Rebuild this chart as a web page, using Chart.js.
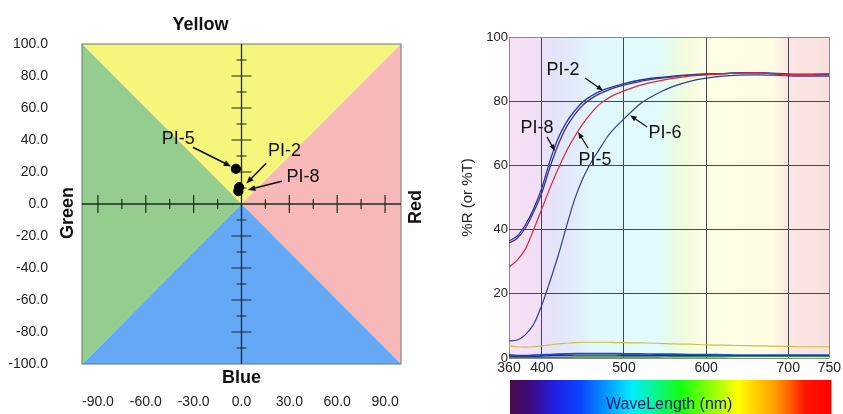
<!DOCTYPE html>
<html>
<head>
<meta charset="utf-8">
<script src="https://cdn.jsdelivr.net/npm/chart.js@4.4.1/dist/chart.umd.min.js"></script>
<style>
  html, body { margin: 0; padding: 0; background: #fff; }
  #wrap { position: relative; width: 843px; height: 414px; }
  #boxLeft { position: absolute; left: 0; top: 0; width: 440px; height: 414px; }
  #boxRight { position: absolute; left: 440px; top: 0; width: 403px; height: 414px; }
</style>
</head>
<body>
<div id="wrap">
  <div id="boxLeft"><canvas id="colorChart"></canvas></div>
  <div id="boxRight"><canvas id="specChart"></canvas></div>
</div>
<script>
// colour plane (left)
const sampleNames = ['PI-5', 'PI-2', 'PI-8'];
const sampleX = [-3.5, -1.5, -2.0];
const sampleY = [22.0, 10.5, 8.0];
const colorXTicks = [-90, -60, -30, 0, 30, 60, 90];
const colorYTicks = [-100, -80, -60, -40, -20, 0, 20, 40, 60, 80, 100];

// spectra (right)
const wavelengths = [360, 370, 380, 390, 400, 410, 420, 430, 440, 450, 460, 470, 480, 490, 500,
  520, 540, 560, 580, 600, 620, 640, 660, 680, 700, 720, 750];
const pi2 = [36.5, 38.0, 41.5, 46.5, 53.0, 61.5, 68.5, 73.5, 77.0, 79.8, 81.6, 83.0, 84.0, 84.8, 85.5,
  86.6, 87.3, 87.8, 88.2, 88.5, 88.6, 88.8, 88.9, 88.7, 88.5, 88.4, 88.5];
const pi8 = [35.8, 37.3, 40.5, 45.5, 51.5, 59.5, 66.5, 72.0, 75.8, 78.8, 80.8, 82.3, 83.4, 84.3, 85.0,
  86.2, 87.0, 87.6, 88.1, 88.4, 88.6, 88.8, 88.8, 88.6, 88.3, 88.2, 88.2];
const pi5 = [28.3, 30.5, 34.0, 40.0, 46.5, 53.0, 59.0, 64.5, 69.0, 73.0, 76.3, 79.0, 80.8, 82.2, 83.2,
  85.0, 86.2, 87.1, 87.8, 88.2, 88.5, 88.7, 88.8, 88.6, 88.3, 88.3, 88.6];
const pi6 = [5.3, 5.6, 7.3, 10.5, 16.5, 24.0, 32.0, 41.0, 49.5, 56.0, 61.0, 65.0, 69.0, 72.0, 74.5,
  79.2, 82.3, 84.6, 86.2, 87.2, 87.8, 88.1, 88.2, 88.1, 87.9, 87.8, 87.8];
const lowYellow = [3.8, 3.5, 3.4, 3.5, 3.8, 4.1, 4.4, 4.6, 4.8, 4.9, 4.9, 4.9, 4.9, 4.8, 4.8,
  4.7, 4.6, 4.4, 4.3, 4.1, 4.0, 3.9, 3.8, 3.7, 3.6, 3.5, 3.5];
const lowBlue = [1.0, 0.8, 0.8, 0.9, 1.0, 1.1, 1.2, 1.3, 1.4, 1.4, 1.4, 1.4, 1.4, 1.4, 1.3,
  1.3, 1.2, 1.2, 1.1, 1.1, 1.0, 0.9, 0.9, 0.9, 0.9, 0.9, 0.9];
const lowNavy = [0.6, 0.5, 0.5, 0.5, 0.6, 0.7, 0.8, 0.8, 0.9, 0.9, 0.9, 0.9, 0.9, 0.9, 0.8,
  0.8, 0.8, 0.7, 0.7, 0.7, 0.6, 0.6, 0.6, 0.6, 0.6, 0.6, 0.6];
const lowGreen = [0.2, 0.2, 0.2, 0.2, 0.2, 0.2, 0.2, 0.2, 0.3, 0.3, 0.3, 0.3, 0.3, 0.3, 0.3,
  0.3, 0.3, 0.4, 0.4, 0.4, 0.4, 0.5, 0.5, 0.5, 0.5, 0.5, 0.5];
const specXTicks = [360, 400, 500, 600, 700, 750];

const FONT = "'Liberation Sans', Arial, sans-serif";

function drawArrow(ctx, x1, y1, x2, y2, lw, head) {
  const ang = Math.atan2(y2 - y1, x2 - x1);
  ctx.lineWidth = lw;
  ctx.beginPath();
  ctx.moveTo(x1, y1);
  ctx.lineTo(x2 - head * 0.8 * Math.cos(ang), y2 - head * 0.8 * Math.sin(ang));
  ctx.stroke();
  ctx.beginPath();
  ctx.moveTo(x2, y2);
  ctx.lineTo(x2 - head * Math.cos(ang - 0.38), y2 - head * Math.sin(ang - 0.38));
  ctx.lineTo(x2 - head * Math.cos(ang + 0.38), y2 - head * Math.sin(ang + 0.38));
  ctx.closePath();
  ctx.fill();
}

// label text position, arrow tail, arrow tip (data units)
const colorNotes = [
  { text: 'PI-5', at: [-39.7, 40.6], from: [-30.5, 35.5], to: [-6.5, 23.5] },
  { text: 'PI-2', at: [27.0, 33.1], from: [15.5, 25.5], to: [3.0, 12.8] },
  { text: 'PI-8', at: [38.5, 16.9], from: [25.3, 14.2], to: [4.0, 8.8] }
];
const specNotes = [
  { text: 'PI-2', at: [425.8, 89.7], from: [452.6, 87.2], to: [474.6, 83.3] },
  { text: 'PI-8', at: [394.1, 71.7], from: [406.3, 68.8], to: [416.0, 64.5] },
  { text: 'PI-5', at: [464.8, 61.7], from: [456.3, 65.4], to: [444.1, 70.4] },
  { text: 'PI-6', at: [550.0, 70.1], from: [528.2, 72.0], to: [507.5, 75.6] }
];

const quadrantPlugin = {
  id: 'quadrants',
  beforeDatasetsDraw(chart) {
    const { ctx, scales: { x, y } } = chart;
    const L = x.getPixelForValue(-100), R = x.getPixelForValue(100);
    const T = y.getPixelForValue(100), B = y.getPixelForValue(-100);
    const cx = x.getPixelForValue(0), cy = y.getPixelForValue(0);
    const tri = (pts, color) => {
      ctx.beginPath();
      ctx.moveTo(pts[0][0], pts[0][1]);
      ctx.lineTo(pts[1][0], pts[1][1]);
      ctx.lineTo(pts[2][0], pts[2][1]);
      ctx.closePath();
      ctx.fillStyle = color;
      ctx.fill();
    };
    ctx.save();
    tri([[L, T], [R, T], [cx, cy]], '#f6f57c');
    tri([[R, T], [R, B], [cx, cy]], '#f6b8b8');
    tri([[L, B], [R, B], [cx, cy]], '#63a9f6');
    tri([[L, T], [L, B], [cx, cy]], '#94cd8e');
    ctx.strokeStyle = '#667766';
    ctx.lineWidth = 1;
    ctx.strokeRect(L, T, R - L, B - T);
    // crosshair axes
    ctx.strokeStyle = '#1f2a1f';
    ctx.lineWidth = 1.3;
    ctx.beginPath();
    ctx.moveTo(L, cy); ctx.lineTo(R, cy);
    ctx.moveTo(cx, T); ctx.lineTo(cx, B);
    ctx.stroke();
    ctx.lineWidth = 1.2;
    ctx.beginPath();
    for (let v = -90; v <= 90; v += 15) {
      if (v === 0) continue;
      const px = x.getPixelForValue(v);
      const h = v % 30 === 0 ? 9 : 5;
      ctx.moveTo(px, cy - h); ctx.lineTo(px, cy + h);
    }
    for (let v = -90; v <= 90; v += 10) {
      if (v === 0) continue;
      const py = y.getPixelForValue(v);
      const w = v % 20 === 0 ? 10 : 5;
      ctx.moveTo(cx - w, py); ctx.lineTo(cx + w, py);
    }
    ctx.stroke();
    ctx.restore();
  },
  afterDatasetsDraw(chart) {
    const { ctx, scales: { x, y } } = chart;
    ctx.save();
    ctx.fillStyle = '#111';
    ctx.strokeStyle = '#111';
    ctx.font = '18px ' + FONT;
    ctx.textAlign = 'center';
    ctx.textBaseline = 'middle';
    colorNotes.forEach(n => {
      ctx.fillText(n.text, x.getPixelForValue(n.at[0]), y.getPixelForValue(n.at[1]));
      drawArrow(ctx, x.getPixelForValue(n.from[0]), y.getPixelForValue(n.from[1]),
        x.getPixelForValue(n.to[0]), y.getPixelForValue(n.to[1]), 1.6, 8);
    });
    // side names
    ctx.font = 'bold 18px ' + FONT;
    const cx = x.getPixelForValue(0), cy = y.getPixelForValue(0);
    ctx.fillText('Blue', cx, y.getPixelForValue(-100) + 14);
    ctx.save();
    ctx.translate(x.getPixelForValue(-100) - 14, cy + 9);
    ctx.rotate(-Math.PI / 2);
    ctx.fillText('Green', 0, 0);
    ctx.restore();
    ctx.save();
    ctx.translate(x.getPixelForValue(100) + 15, cy + 3);
    ctx.rotate(-Math.PI / 2);
    ctx.fillText('Red', 0, 0);
    ctx.restore();
    ctx.restore();
  }
};

new Chart(document.getElementById('colorChart'), {
  type: 'scatter',
  data: {
    datasets: [{
      label: 'samples',
      data: sampleX.map((v, i) => ({ x: v, y: sampleY[i] })),
      backgroundColor: '#000',
      borderColor: '#000',
      pointRadius: 4.6
    }]
  },
  options: {
    responsive: true,
    maintainAspectRatio: false,
    animation: false,
    layout: { padding: { left: 0, right: 39, top: 0, bottom: 0 } },
    plugins: {
      legend: { display: false },
      tooltip: { enabled: false },
      title: {
        display: true, text: 'Yellow', color: '#111',
        font: { family: FONT, size: 18, weight: 'bold' },
        padding: { top: 14, bottom: 8.4 }
      }
    },
    scales: {
      x: {
        type: 'linear', min: -100, max: 100,
        grid: { display: false, drawTicks: false },
        border: { display: false },
        afterBuildTicks: s => { s.ticks = colorXTicks.map(v => ({ value: v })); },
        afterFit: s => { s.height = 50; },
        ticks: {
          padding: 30, autoSkip: false, maxRotation: 0, color: '#222',
          font: { family: FONT, size: 14 },
          callback: v => v.toFixed(1)
        }
      },
      y: {
        min: -100, max: 100,
        grid: { display: false, drawTicks: false },
        border: { display: false },
        afterBuildTicks: s => { s.ticks = colorYTicks.map(v => ({ value: v })); },
        afterFit: s => { s.width = 82; },
        ticks: {
          padding: 34, autoSkip: false, color: '#222',
          font: { family: FONT, size: 14 },
          callback: v => v.toFixed(1)
        }
      }
    }
  },
  plugins: [quadrantPlugin]
});

// pastel band behind the spectra, and the rainbow strip under the axis
const spectrumPlugin = {
  id: 'spectrum',
  beforeDraw(chart) {
    const { ctx, chartArea: a, scales: { x } } = chart;
    const bands = [
      [360, '#f7e1f4'], [395, '#f1dff6'], [412, '#e4e3f9'], [440, '#e2ebfb'], [462, '#e1f8fd'],
      [540, '#e1fbfb'], [558, '#e6fbe8'], [575, '#f2fcdc'], [598, '#fdfde5'], [682, '#fdfbe2'],
      [698, '#fbe7e3'], [750, '#f9e0de']
    ];
    const g = ctx.createLinearGradient(a.left, 0, a.right, 0);
    bands.forEach(([nm, c]) => g.addColorStop((x.getPixelForValue(nm) - a.left) / (a.right - a.left), c));
    ctx.save();
    ctx.fillStyle = g;
    ctx.fillRect(a.left, a.top, a.right - a.left, a.bottom - a.top);
    const top = a.bottom + 22, l = a.left + 1, r = a.right + 2;
    const rb = ctx.createLinearGradient(l, 0, r, 0);
    [[0, '#4a0c45'], [0.07, '#3a0a88'], [0.14, '#1f1fe6'], [0.22, '#0a44ff'], [0.38, '#00eeff'],
     [0.53, '#12ff10'], [0.71, '#ffff00'], [0.83, '#ff9800'], [0.92, '#ff1400'], [1, '#ff0000']]
      .forEach(([p, c]) => rb.addColorStop(p, c));
    ctx.fillStyle = rb;
    ctx.fillRect(l, top, r - l, chart.height - top);
    ctx.restore();
  },
  afterDatasetsDraw(chart) {
    const { ctx, scales: { x, y } } = chart;
    ctx.save();
    ctx.fillStyle = '#111';
    ctx.strokeStyle = '#111';
    ctx.font = '18px ' + FONT;
    ctx.textAlign = 'center';
    ctx.textBaseline = 'middle';
    specNotes.forEach(n => {
      ctx.fillText(n.text, x.getPixelForValue(n.at[0]), y.getPixelForValue(n.at[1]));
      drawArrow(ctx, x.getPixelForValue(n.from[0]), y.getPixelForValue(n.from[1]),
        x.getPixelForValue(n.to[0]), y.getPixelForValue(n.to[1]), 1.2, 7);
    });
    ctx.restore();
  }
};

const series = (vals) => wavelengths.map((w, i) => ({ x: w, y: vals[i] }));
const line = (label, vals, color, width) => ({
  label, data: series(vals), borderColor: color, backgroundColor: color,
  borderWidth: width, pointRadius: 0, cubicInterpolationMode: 'monotone', fill: false
});

new Chart(document.getElementById('specChart'), {
  type: 'line',
  data: {
    datasets: [
      line('low-green', lowGreen, '#2e8b3a', 1.4),
      line('low-navy', lowNavy, '#1c2a8c', 1.4),
      line('low-blue', lowBlue, '#1a4ad0', 1.6),
      line('low-yellow', lowYellow, '#c9c24a', 1.2),
      line('PI-6', pi6, '#2f3f8f', 1.2),
      line('PI-5', pi5, '#e4243a', 1.2),
      line('PI-8', pi8, '#4a2f7e', 1.3),
      line('PI-2', pi2, '#2438a0', 1.3)
    ]
  },
  options: {
    responsive: true,
    maintainAspectRatio: false,
    animation: false,
    layout: { padding: { left: 0, right: 13, top: 37, bottom: 0 } },
    plugins: { legend: { display: false }, tooltip: { enabled: false } },
    scales: {
      x: {
        type: 'linear', min: 360, max: 750,
        afterBuildTicks: s => { s.ticks = specXTicks.map(v => ({ value: v })); },
        afterFit: s => { s.height = 56; },
        grid: {
          drawTicks: false, lineWidth: 1,
          color: c => (c.tick && (c.tick.value === 360 || c.tick.value === 750)) ? '#8a8a8a' : '#474747'
        },
        border: { display: false },
        ticks: { padding: 2, autoSkip: false, maxRotation: 0, color: '#222', font: { family: FONT, size: 14 } },
        title: {
          display: true, text: 'WaveLength (nm)', color: '#1b206e',
          font: { family: FONT, size: 16 }, padding: { top: 4, bottom: 0 }
        }
      },
      y: {
        min: 0, max: 100,
        afterFit: s => { s.width = 69; },
        grid: {
          drawTicks: false, lineWidth: 1,
          color: c => (c.tick && (c.tick.value === 0 || c.tick.value === 100)) ? '#8a8a8a' : '#474747'
        },
        border: { display: false },
        ticks: { stepSize: 20, padding: 1, color: '#222', font: { family: FONT, size: 13 } },
        title: {
          display: true, text: '%R (or %T)', color: '#222',
          font: { family: FONT, size: 15 }, padding: { top: 19, bottom: 0 }
        }
      }
    }
  },
  plugins: [spectrumPlugin]
});
</script>
</body>
</html>
